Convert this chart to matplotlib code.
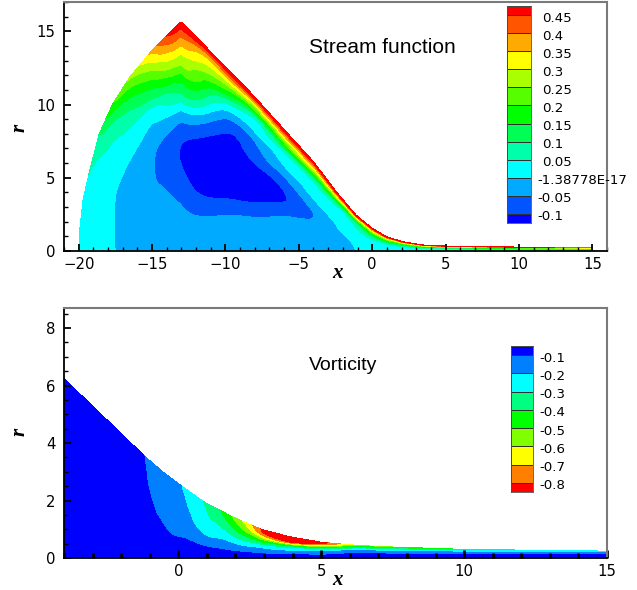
import numpy as np
import matplotlib.pyplot as plt
import matplotlib.tri as mtri
from matplotlib.colors import ListedColormap

plt.rcParams['font.family'] = 'DejaVu Sans'

# ---------------- stream function (top panel) ----------------
# free-surface outline r_top(x)
psi_surf_x = [-20, -19.93, -19.7, -19.25, -18.6, -17.7, -16.5, -15, -13.05, -10.4, -8.1,
              -5.85, -4.0, -2.45, -1.1, 0, 1.0, 2.1, 3.5, 5, 7, 10, 15]
psi_surf_r = [0, 1.43, 3.5, 5.5, 8.0, 10.0, 11.9, 13.7, 15.68, 13.0, 10.63,
              8.13, 6.1, 4.05, 2.45, 1.55, 0.97, 0.63, 0.41, 0.34, 0.30, 0.27, 0.22]

# stream function sampled on columns x, at fractions eta = r / r_top(x)
psi_x = [-20, -19.7, -19.25, -18.6, -17.7, -16.5, -15, -13, -11.5, -10, -8,
         -6, -4, -2.5, -1, 0, 1.5, 3, 5, 8, 11, 15]
psi_eta = [0, 0.1, 0.2, 0.3, 0.4, 0.5, 0.6, 0.7, 0.8, 0.85, 0.9, 0.95, 1.0]
psi_table = [
    [0.02, 0.02, 0.02, 0.02, 0.02, 0.02, 0.02, 0.02, 0.02, 0.02, 0.02, 0.02, 0.02],
    [0.015, 0.017, 0.019, 0.021, 0.023, 0.025, 0.027, 0.029, 0.031, 0.032, 0.033, 0.034, 0.035],
    [0.012, 0.013, 0.015, 0.017, 0.02, 0.023, 0.027, 0.031, 0.036, 0.039, 0.043, 0.047, 0.052],
    [0.008, 0.009, 0.011, 0.014, 0.018, 0.023, 0.03, 0.038, 0.05, 0.058, 0.07, 0.085, 0.1],
    [0.003, 0.002, 0.002, 0.003, 0.006, 0.012, 0.02, 0.04, 0.065, 0.085, 0.11, 0.15, 0.19],
    [-0.01, -0.015, -0.02, -0.02, -0.015, -0.004, 0.018, 0.045, 0.095, 0.125, 0.165, 0.21, 0.26],
    [-0.01, -0.02, -0.03, -0.04, -0.045, -0.04, -0.012, 0.035, 0.14, 0.195, 0.25, 0.31, 0.37],
    [-0.01, -0.025, -0.05, -0.08, -0.103, -0.09, -0.015, 0.11, 0.235, 0.29, 0.355, 0.42, 0.5],
    [-0.01, -0.03, -0.065, -0.115, -0.132, -0.12, -0.065, 0.05, 0.17, 0.225, 0.29, 0.355, 0.5],
    [-0.01, -0.027, -0.053, -0.108, -0.132, -0.133, -0.113, -0.065, 0.047, 0.145, 0.24, 0.355, 0.5],
    [-0.01, -0.025, -0.043, -0.092, -0.125, -0.125, -0.088, -0.055, 0.02, 0.045, 0.15, 0.32, 0.5],
    [-0.01, -0.022, -0.037, -0.055, -0.099, -0.097, -0.055, 0.0, 0.04, 0.12, 0.23, 0.36, 0.5],
    [-0.01, -0.02, -0.03, -0.04, -0.051, -0.03, 0.006, 0.03, 0.07, 0.15, 0.25, 0.37, 0.5],
    [-0.012, -0.014, -0.015, -0.012, -0.004, 0.006, 0.018, 0.035, 0.08, 0.15, 0.25, 0.37, 0.5],
    [0.0005, 0.002, 0.005, 0.01, 0.02, 0.03, 0.045, 0.07, 0.12, 0.18, 0.26, 0.37, 0.5],
    [0.002, 0.005, 0.01, 0.018, 0.03, 0.05, 0.085, 0.14, 0.22, 0.27, 0.33, 0.41, 0.5],
    [0.002, 0.006, 0.012, 0.022, 0.038, 0.06, 0.1, 0.16, 0.24, 0.29, 0.35, 0.42, 0.5],
    [0.003, 0.008, 0.015, 0.028, 0.045, 0.07, 0.11, 0.17, 0.25, 0.3, 0.36, 0.43, 0.5],
    [0.003, 0.008, 0.015, 0.028, 0.045, 0.07, 0.11, 0.17, 0.25, 0.3, 0.36, 0.43, 0.5],
    [0.003, 0.008, 0.015, 0.027, 0.044, 0.068, 0.107, 0.165, 0.245, 0.295, 0.355, 0.42, 0.49],
    [0.003, 0.008, 0.014, 0.026, 0.042, 0.065, 0.1, 0.155, 0.23, 0.28, 0.34, 0.4, 0.47],
    [0.003, 0.007, 0.013, 0.024, 0.038, 0.058, 0.09, 0.14, 0.205, 0.25, 0.3, 0.36, 0.42],
]
psi_levels = [-0.1, -0.05, 0.0, 0.05, 0.1, 0.15, 0.2, 0.25, 0.3, 0.35, 0.4, 0.45]
psi_labels = ['-0.1', '-0.05', '-1.38778E-17', '0.05', '0.1', '0.15', '0.2', '0.25',
              '0.3', '0.35', '0.4', '0.45']
psi_colors = ['#0000FF', '#0055FF', '#00AAFF', '#00FFFF', '#00FFAA', '#00FF55', '#00FF00',
              '#55FF00', '#AAFF00', '#FFFF00', '#FFAA00', '#FF5500', '#FF0000']

# ---------------- vorticity (bottom panel) ----------------
w_surf_x = [-4, -3, -2, -1.15, -0.5, 0.15, 0.9, 1.9, 2.9, 3.9, 5.0, 6.0, 7.0, 10.0, 15.0]
w_surf_r = [6.24, 5.29, 4.33, 3.52, 2.96, 2.48, 1.95, 1.43, 1.0, 0.74, 0.55, 0.46, 0.40, 0.30, 0.24]

w_x = [-4, -3, -2, -1.15, -0.5, 0, 0.5, 1, 1.5, 2, 2.5, 3, 3.5, 4, 4.5, 5, 6, 7, 9, 11, 13, 15]
w_eta = [0, 0.1, 0.2, 0.3, 0.4, 0.5, 0.6, 0.7, 0.8, 0.9, 1.0]
w_table = [
    [0, -0.005, -0.01, -0.014, -0.018, -0.021, -0.024, -0.026, -0.028, -0.029, -0.03],
    [0, -0.008, -0.015, -0.021, -0.027, -0.032, -0.036, -0.04, -0.042, -0.044, -0.045],
    [0, -0.012, -0.022, -0.031, -0.039, -0.046, -0.052, -0.057, -0.061, -0.064, -0.066],
    [0, -0.02, -0.038, -0.053, -0.066, -0.077, -0.086, -0.092, -0.097, -0.1, -0.103],
    [0, -0.035, -0.065, -0.088, -0.104, -0.117, -0.127, -0.135, -0.141, -0.146, -0.15],
    [0, -0.045, -0.08, -0.105, -0.125, -0.14, -0.153, -0.165, -0.174, -0.182, -0.19],
    [0, -0.045, -0.08, -0.12, -0.15, -0.185, -0.205, -0.22, -0.232, -0.242, -0.25],
    [0, -0.05, -0.1, -0.155, -0.205, -0.235, -0.26, -0.285, -0.3, -0.31, -0.32],
    [0, -0.055, -0.11, -0.16, -0.205, -0.25, -0.29, -0.325, -0.36, -0.39, -0.41],
    [0, -0.06, -0.125, -0.18, -0.24, -0.305, -0.365, -0.42, -0.47, -0.515, -0.54],
    [0, -0.065, -0.13, -0.19, -0.26, -0.35, -0.43, -0.52, -0.6, -0.65, -0.68],
    [0, -0.07, -0.14, -0.19, -0.26, -0.37, -0.5, -0.65, -0.77, -0.84, -0.86],
    [0, -0.075, -0.14, -0.2, -0.27, -0.37, -0.55, -0.76, -0.88, -0.94, -0.92],
    [0, -0.065, -0.13, -0.18, -0.25, -0.35, -0.55, -0.8, -0.9, -0.95, -0.93],
    [0, -0.06, -0.12, -0.17, -0.23, -0.32, -0.5, -0.72, -0.85, -0.91, -0.9],
    [0, -0.055, -0.11, -0.16, -0.21, -0.28, -0.4, -0.58, -0.75, -0.84, -0.84],
    [0, -0.03, -0.06, -0.09, -0.125, -0.17, -0.23, -0.32, -0.44, -0.57, -0.64],
    [0, -0.025, -0.05, -0.08, -0.11, -0.15, -0.2, -0.27, -0.36, -0.47, -0.55],
    [0, -0.02, -0.04, -0.065, -0.1, -0.14, -0.18, -0.23, -0.3, -0.38, -0.45],
    [0, -0.02, -0.04, -0.06, -0.09, -0.13, -0.17, -0.21, -0.26, -0.32, -0.38],
    [0, -0.02, -0.04, -0.06, -0.085, -0.115, -0.15, -0.19, -0.23, -0.28, -0.32],
    [0, -0.02, -0.04, -0.06, -0.08, -0.105, -0.135, -0.17, -0.21, -0.25, -0.28],
]
w_levels = [-0.8, -0.7, -0.6, -0.5, -0.4, -0.3, -0.2, -0.1]
w_labels = ['-0.8', '-0.7', '-0.6', '-0.5', '-0.4', '-0.3', '-0.2', '-0.1']
w_colors = ['#FF0000', '#FF8000', '#FFFF00', '#80FF00', '#00FF00', '#00FF80', '#00FFFF',
            '#0080FF', '#0000FF']


def body_fitted_field(cols_x, eta, table, surf_x, surf_r, eta_scale):
    # smooth the sampled table in (x, eta) space, then map to (x, r)
    z = np.asarray(table, float).T
    xi, et = np.meshgrid(cols_x, eta)
    ny, nx = z.shape
    idx = np.arange(ny * nx).reshape(ny, nx)
    a, b = idx[:-1, :-1].ravel(), idx[:-1, 1:].ravel()
    c, d = idx[1:, 1:].ravel(), idx[1:, :-1].ravel()
    tris = np.vstack([np.column_stack([a, b, c]), np.column_stack([a, c, d])])
    comp = mtri.Triangulation(xi.ravel(), et.ravel() * eta_scale, tris)
    interp = mtri.CubicTriInterpolator(comp, z.ravel(), kind='min_E')
    fine, zf = mtri.UniformTriRefiner(comp).refine_field(z.ravel(), interp, subdiv=4)
    r = fine.y / eta_scale * np.interp(fine.x, surf_x, surf_r)
    return mtri.Triangulation(fine.x, r, fine.triangles), zf


def style_axes(ax):
    for s in ['left', 'bottom']:
        ax.spines[s].set_color('black')
        ax.spines[s].set_linewidth(1.3)
    for s in ['top', 'right']:
        ax.spines[s].set_color('#7a7a7a')
        ax.spines[s].set_linewidth(1.5)
    ax.tick_params(which='both', direction='in', top=False, right=False, labelsize=10.7)
    ax.tick_params(which='major', length=5, width=1.3)
    ax.tick_params(which='minor', length=3, width=1.0)
    ax.tick_params(axis='y', pad=6)
    ax.tick_params(axis='x', pad=4)


def legend_box(fig, rect, colors, labels):
    cax = fig.add_axes(rect)
    n = len(colors)
    edges = np.r_[0, np.arange(n - 1) + 0.5, n - 1]
    cax.pcolormesh([0, 1], edges, np.arange(n)[:, None], cmap=ListedColormap(colors),
                   vmin=-0.5, vmax=n - 0.5, edgecolors='#303030', linewidth=0.5)
    cax.set_xlim(0, 1)
    cax.set_ylim(0, n - 1)
    cax.set_xticks([])
    cax.set_yticks([])
    for s in cax.spines.values():
        s.set_color('#505050')
        s.set_linewidth(0.6)
    for y, lab in zip(edges[1:-1], labels):
        dx = 6 if lab.startswith('-') else 10.7
        cax.annotate(lab, xy=(1, y), xycoords=('axes fraction', 'data'), xytext=(dx, -3),
                     textcoords='offset pixels', va='center', ha='left', fontsize=9.6)


W, H = 637, 590
fig = plt.figure(figsize=(W / 100, H / 100), dpi=100)

# top panel
ax1 = fig.add_axes([64 / W, 1 - 251 / H, 543 / W, 249 / H])
tri1, z1 = body_fitted_field(psi_x, psi_eta, psi_table, psi_surf_x, psi_surf_r, 20)
ax1.tricontourf(tri1, z1, levels=[-10] + psi_levels + [10], colors=psi_colors)
ax1.set_xlim(-21, 16)
ax1.set_ylim(0, 17)
ax1.set_xticks([-20, -15, -10, -5, 0, 5, 10, 15])
ax1.set_xticks(np.arange(-21, 17), minor=True)
ax1.set_yticks([0, 5, 10, 15])
ax1.set_yticks(np.arange(0, 18), minor=True)
style_axes(ax1)
fig.text(309 / W, 1 - 53 / H, 'Stream function', fontsize=15, family='Liberation Sans',
         va='baseline', ha='left')
legend_box(fig, [507 / W, 1 - 223 / H, 24 / W, 217 / H], psi_colors, psi_labels)

# bottom panel
ax2 = fig.add_axes([64 / W, 1 - 558 / H, 543 / W, 250 / H])
tri2, z2 = body_fitted_field(w_x, w_eta, w_table, w_surf_x, w_surf_r, 10)
ax2.tricontourf(tri2, z2, levels=[-10] + w_levels + [10], colors=w_colors)
ax2.set_xlim(-4, 15)
ax2.set_ylim(0, 8.7)
ax2.set_xticks([0, 5, 10, 15])
ax2.set_xticks(np.arange(-4, 16), minor=True)
ax2.set_yticks([0, 2, 4, 6, 8])
ax2.set_yticks(np.arange(0, 8.75, 0.5), minor=True)
style_axes(ax2)
ax2.tick_params(axis='x', which='major', length=5.5, width=2.0)
ax2.tick_params(axis='x', which='minor', length=3.8, width=2.0)
fig.text(309 / W, 1 - 370 / H, 'Vorticity', fontsize=14, family='Liberation Sans',
         va='baseline', ha='left')
legend_box(fig, [511 / W, 1 - 492 / H, 22 / W, 146 / H], w_colors, w_labels)

# axis titles (bold italic serif, as in the original)
lab = dict(family='Liberation Serif', weight='bold', style='italic', fontsize=15,
           ha='center', va='center')
fig.text(338 / W, 1 - 273 / H, 'x', **lab)
fig.text(337 / W, 1 - 580 / H, 'x', **lab)
fig.text(20 / W, 1 - 128 / H, 'r', rotation=90, **lab)
fig.text(20 / W, 1 - 432 / H, 'r', rotation=90, **lab)

fig.savefig('out.png', dpi=100)
